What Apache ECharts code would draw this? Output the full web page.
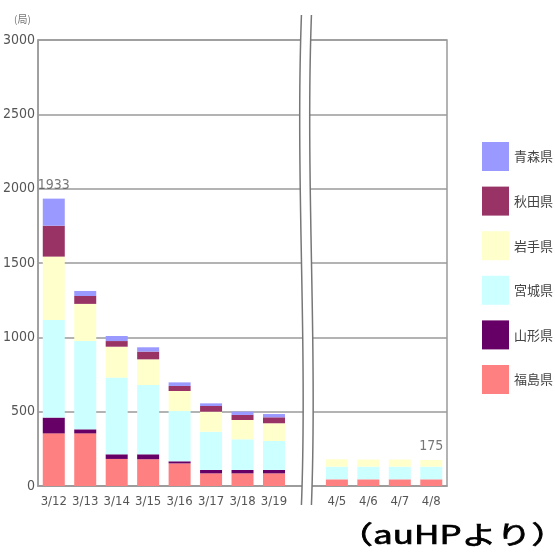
<!DOCTYPE html>
<html>
<head>
<meta charset="utf-8">
<script src="https://cdn.jsdelivr.net/npm/echarts@6/dist/echarts.min.js"></script>
<style>
  html, body { margin: 0; padding: 0; background: #fff; }
  #chart { width: 555px; height: 554px; }
</style>
</head>
<body>
<div id="chart"></div>
<script>
// Daily count of suspended base stations by prefecture (empty slot = axis break)
const categories = ['3/12', '3/13', '3/14', '3/15', '3/16', '3/17', '3/18', '3/19', '', '4/5', '4/6', '4/7', '4/8'];

const fukushima = [354, 354, 182, 180, 152, 85, 85, 85, null, 45, 45, 45, 45];
const yamagata  = [106, 27, 31, 33, 14, 23, 23, 23, null, 0, 0, 0, 0];
const miyagi    = [657, 594, 516, 466, 338, 257, 206, 195, null, 85, 85, 85, 85];
const iwate     = [426, 250, 208, 173, 135, 135, 130, 119, null, 50, 48, 48, 45];
const akita     = [208, 53, 38, 52, 34, 38, 34, 40, null, 0, 0, 0, 0];
const aomori    = [182, 34, 34, 29, 24, 18, 22, 22, null, 0, 0, 0, 0];

// Totals are printed above these categories only
const labeledCategories = ['3/12', '4/8'];

const yTicks = [0, 500, 1000, 1500, 2000, 2500, 3000];

const stackSeries = [
  { name: '福島県', data: fukushima, color: '#ff8080' },
  { name: '山形県', data: yamagata,  color: '#660066' },
  { name: '宮城県', data: miyagi,    color: '#ccffff' },
  { name: '岩手県', data: iwate,     color: '#ffffcc' },
  { name: '秋田県', data: akita,     color: '#993366' },
  { name: '青森県', data: aomori,    color: '#9999ff' }
];

const totals = categories.map((c, i) => {
  if (labeledCategories.indexOf(c) < 0) return null;
  return stackSeries.reduce((s, ser) => s + (ser.data[i] || 0), 0);
});

// Pick a narrow face for the numerals if one is available
function pickNarrow() {
  const ctx = document.createElement('canvas').getContext('2d');
  const cands = ['Liberation Sans Narrow', 'DejaVu Sans Condensed', 'Arial Narrow'];
  ctx.font = '40px monospace';
  const base = ctx.measureText('3000 1933').width;
  for (const f of cands) {
    ctx.font = `40px "${f}", monospace`;
    if (Math.abs(ctx.measureText('3000 1933').width - base) > 0.5) return `"${f}"`;
  }
  return '"Liberation Sans"';
}
const narrow = pickNarrow() + ", 'Liberation Sans', sans-serif";
const cjk = "'Noto Sans CJK JP', 'Noto Sans', sans-serif";

const chart = echarts.init(document.getElementById('chart'), null, { renderer: 'canvas' });

const series = stackSeries.map(s => ({
  name: s.name,
  type: 'bar',
  stack: 'total',
  barWidth: 22,
  data: s.data,
  itemStyle: { color: s.color },
  emphasis: { disabled: true }
}));

series.push({
  name: 'sum',
  type: 'scatter',
  data: totals,
  symbolSize: 1,
  itemStyle: { color: 'rgba(0,0,0,0)' },
  label: {
    show: true,
    position: 'top',
    distance: 6,
    formatter: p => String(p.value),
    fontFamily: narrow,
    fontSize: 14,
    color: '#555'
  },
  z: 10
});

chart.setOption({
  animation: false,
  backgroundColor: '#fff',
  grid: {
    left: 37, right: 108, top: 40, bottom: 68,
    show: true,
    borderColor: '#9a9a9a',
    borderWidth: 1.5,
    backgroundColor: 'transparent'
  },
  legend: {
    orient: 'vertical',
    left: 477,
    top: 137,
    itemWidth: 27,
    itemHeight: 29,
    itemGap: 15.6,
    icon: 'rect',
    data: ['青森県', '秋田県', '岩手県', '宮城県', '山形県', '福島県'],
    textStyle: { fontFamily: cjk, fontSize: 13, color: '#444' },
    selectedMode: false
  },
  xAxis: {
    type: 'category',
    data: categories,
    axisLine: { show: true, lineStyle: { color: '#9a9a9a', width: 1.5 } },
    axisTick: { show: false },
    axisLabel: { interval: 0, margin: 9, fontFamily: narrow, fontSize: 13, color: '#555' }
  },
  yAxis: {
    type: 'value',
    min: yTicks[0],
    max: yTicks[yTicks.length - 1],
    interval: yTicks[1] - yTicks[0],
    axisLine: { show: true, lineStyle: { color: '#9a9a9a', width: 1.5 } },
    axisTick: { show: false },
    axisLabel: { margin: 3, fontFamily: narrow, fontSize: 14, color: '#555', formatter: v => String(v) },
    splitLine: { show: true, lineStyle: { color: '#9a9a9a', width: 1.5 } }
  },
  series: series
});

// Axis break marks placed on the empty category slot
const gapIndex = categories.indexOf('');
const cx = chart.convertToPixel({ xAxisIndex: 0 }, gapIndex) + 1;
const yTop = 15, yBot = 505;
const xl = cx - 5, xr = cx + 5;

// sample a gentle S-shaped curve running top to bottom at x0
function wavePoints(x0) {
  const pts = [];
  const n = 40;
  for (let k = 0; k <= n; k++) {
    const t = k / n;
    const mt = 1 - t;
    const x = mt * mt * mt * x0 + 3 * mt * mt * t * (x0 - 6) + 3 * mt * t * t * (x0 + 6) + t * t * t * x0;
    const y = yTop + (yBot - yTop) * t;
    pts.push([x, y]);
  }
  return pts;
}
const leftPts = wavePoints(xl);
const rightPts = wavePoints(xr);
const bandPts = leftPts.concat(rightPts.slice().reverse());

chart.setOption({
  graphic: [
    {
      type: 'polygon', z: 50, silent: true,
      shape: { points: bandPts },
      style: { fill: '#fff', stroke: null }
    },
    {
      type: 'polyline', z: 51, silent: true,
      shape: { points: leftPts },
      style: { fill: null, stroke: '#777', lineWidth: 1.5 }
    },
    {
      type: 'polyline', z: 51, silent: true,
      shape: { points: rightPts },
      style: { fill: null, stroke: '#777', lineWidth: 1.5 }
    },
    {
      type: 'text', left: 14, top: 14, z: 20,
      style: { text: '(局)', fontFamily: cjk, fontSize: 10, fill: '#777' }
    },
    {
      type: 'text', x: 338, y: 522, z: 20, scaleX: 1.4,
      style: { text: '（auHPより）', fontFamily: cjk, fontSize: 25, fontWeight: 'normal', fill: '#000', stroke: '#000', lineWidth: 0.7 }
    }
  ]
});
</script>
</body>
</html>
